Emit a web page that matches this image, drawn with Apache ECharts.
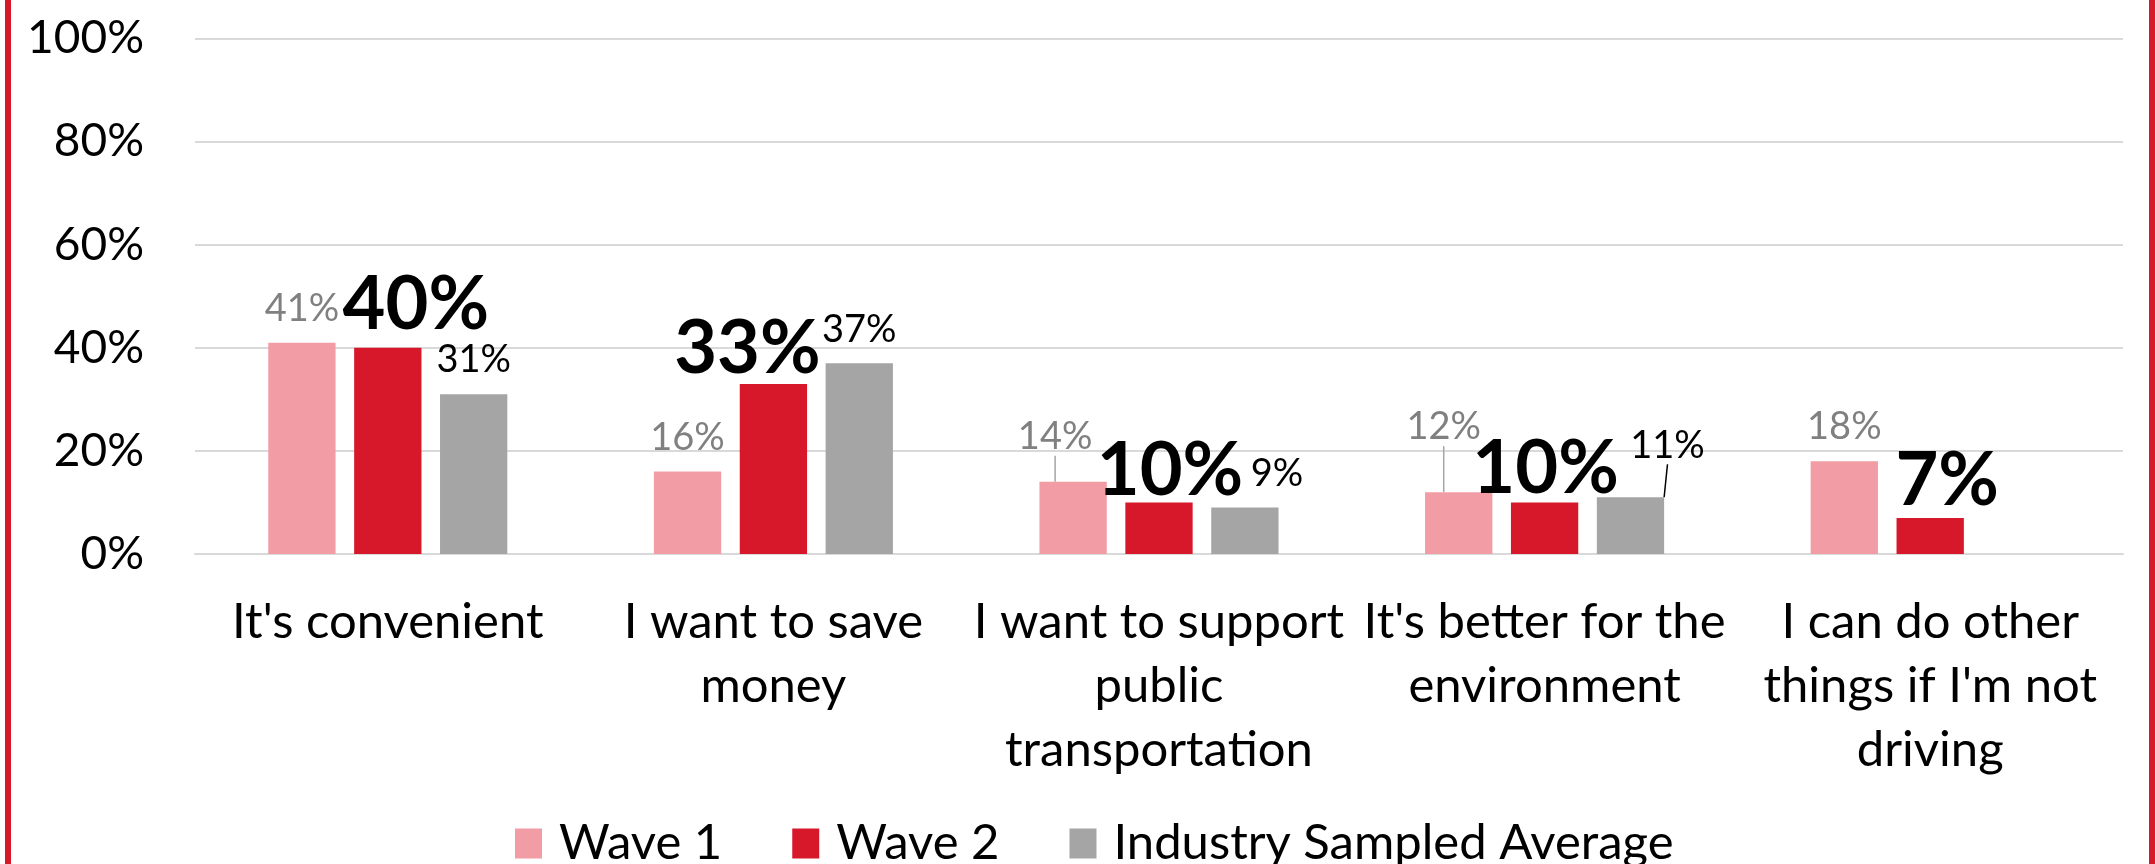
<!DOCTYPE html>
<html>
<head>
<meta charset="utf-8">
<script src="https://cdn.jsdelivr.net/npm/echarts@6/dist/echarts.min.js"></script>
<style>
  html, body { margin: 0; padding: 0; background: #fff; }
  #chart { width: 2155px; height: 864px; }
</style>
</head>
<body>
<div id="chart"></div>
<script>
// ---- data ----
const categories = [
  "It's convenient",
  "I want to save\nmoney",
  "I want to support\npublic\ntransportation",
  "It's better for the\nenvironment",
  "I can do other\nthings if I'm not\ndriving"
];
const seriesNames = ["Wave 1", "Wave 2", "Industry Sampled Average"];
const wave1 = [41, 16, 14, 12, 18];
const wave2 = [40, 33, 10, 10, 7];
const industry = [31, 37, 9, 11, null];
const yTicks = [0, 20, 40, 60, 80, 100];

// ---- styling / layout (not data) ----
const FONT = 'Lato, "Open Sans", sans-serif';
const colors = ['#F29DA5', '#D7182A', '#A5A5A5'];
// manual label nudges [dx, dy] per series, per category
const nudges = [
  [[0, 0], [0, 0], [-18, -11], [-15, -31], [0, 0]],
  [[28, -6], [-26, 2], [11, 6], [1, 4], [17, 0]],
  [[0, 0], [0, 0], [32, 0], [37, -18], [0, 0]]
];
const leaderLines = [
  [false, false, true, true, false],
  [false, false, false, false, false],
  [false, false, false, true, false]
];
const leaderColors = ['#A6A6A6', '#000', '#000'];

const labelStyles = [
  { fontSize: 38, color: '#808080', fontWeight: 'normal', distance: 15 },
  { fontSize: 74, color: '#000', fontWeight: 'bold', distance: 0 },
  { fontSize: 38, color: '#000', fontWeight: 'normal', distance: 15 }
];

function buildSeries(name, values, idx) {
  const ls = labelStyles[idx];
  return {
    name: name,
    type: 'bar',
    barGap: '27.6%',
    barCategoryGap: '38%',
    itemStyle: { color: colors[idx] },
    data: values.map((v, i) => ({
      value: v === null ? '-' : v,
      labelLine: { show: leaderLines[idx][i], lineStyle: { color: leaderColors[idx], width: 1.5 } }
    })),
    label: {
      show: true,
      position: 'top',
      distance: ls.distance,
      formatter: p => p.value + '%',
      fontFamily: FONT,
      fontSize: ls.fontSize,
      fontWeight: ls.fontWeight,
      color: ls.color
    },
    labelLayout: function (p) {
      const n = nudges[idx][p.dataIndex];
      return { dx: n[0], dy: n[1] };
    },
    labelLine: { show: false },
    emphasis: { disabled: true }
  };
}

const chart = echarts.init(document.getElementById('chart'), null, { renderer: 'canvas' });
chart.setOption({
  animation: false,
  backgroundColor: '#fff',
  grid: { left: 195, right: 32, top: 38.5, bottom: 310, containLabel: false },
  xAxis: {
    type: 'category',
    data: categories,
    axisLine: { show: true, lineStyle: { color: '#D9D9D9', width: 2 } },
    axisTick: { show: false },
    axisLabel: {
      interval: 0,
      margin: 36,
      fontFamily: FONT,
      fontSize: 49,
      lineHeight: 64,
      color: '#000'
    }
  },
  yAxis: {
    type: 'value',
    min: yTicks[0],
    max: yTicks[yTicks.length - 1],
    interval: yTicks[1] - yTicks[0],
    axisLine: { show: false },
    axisTick: { show: false },
    splitLine: { lineStyle: { color: '#D9D9D9', width: 2 } },
    axisLabel: {
      margin: 51,
      fontFamily: FONT,
      fontSize: 46,
      color: '#000',
      formatter: '{value}%'
    }
  },
  legend: {
    data: seriesNames,
    left: 510,
    top: 814,
    itemWidth: 27,
    itemHeight: 30,
    itemGap: 70,
    icon: 'rect',
    textStyle: { fontFamily: FONT, fontSize: 49, color: '#000', padding: [0, 0, 0, 12] }
  },
  graphic: [
    { type: 'rect', left: 5, top: 0, shape: { width: 6, height: 864 }, style: { fill: '#D7182A' }, silent: true },
    { type: 'rect', left: 2149, top: 0, shape: { width: 6, height: 864 }, style: { fill: '#D7182A' }, silent: true }
  ],
  series: [
    buildSeries(seriesNames[0], wave1, 0),
    buildSeries(seriesNames[1], wave2, 1),
    buildSeries(seriesNames[2], industry, 2)
  ]
});
</script>
</body>
</html>
